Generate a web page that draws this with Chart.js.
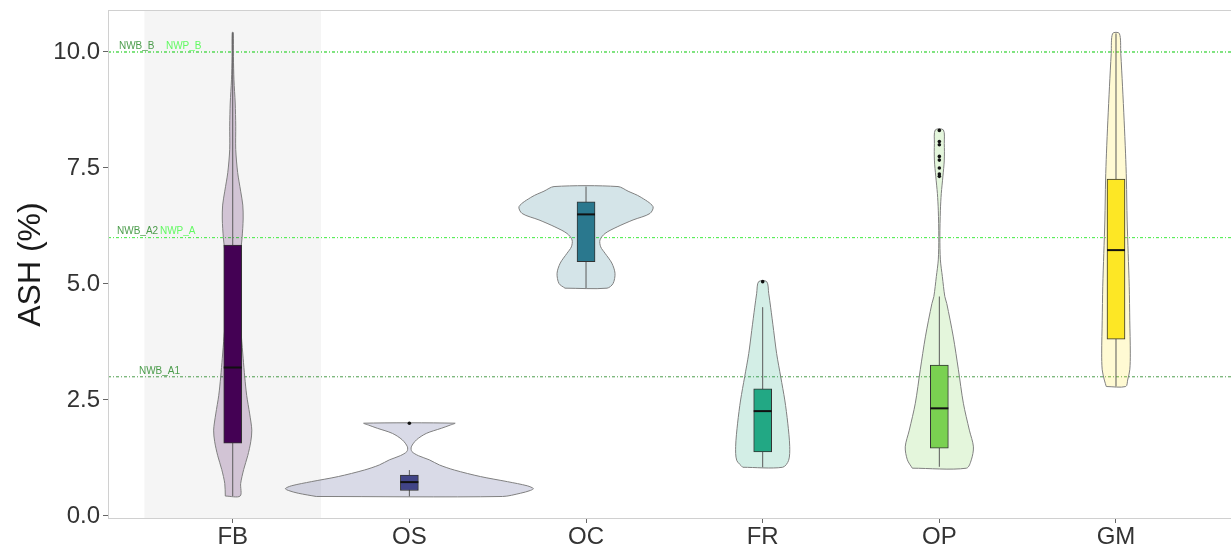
<!DOCTYPE html>
<html>
<head>
<meta charset="utf-8">
<title>ASH (%)</title>
<script src="https://cdn.jsdelivr.net/npm/chart.js@4.4.1/dist/chart.umd.min.js"></script>
<style>
  html, body { margin: 0; padding: 0; background: #fff; }
</style>
</head>
<body>
<canvas id="ashChart" width="1231" height="550"></canvas>
<script>
// groups on the x axis and y ticks
var categories = ['FB', 'OS', 'OC', 'FR', 'OP', 'GM'];
var yTicks = [0, 2.5, 5, 7.5, 10];

// box plot stats
var q1 = [1.57, 0.55, 5.48, 1.38, 1.46, 3.81];
var medians = [3.2, 0.73, 6.5, 2.26, 2.32, 5.73];
var q3 = [5.84, 0.88, 6.77, 2.74, 3.25, 7.26];
var whiskerLow = [0.43, 0.42, 4.91, 1.05, 1.06, 2.79];
var whiskerHigh = [10.42, 0.99, 7.10, 4.5, 4.73, 10.40];

// outliers (group index + value)
var outlierGroup = [1, 3, 4, 4, 4, 4, 4, 4, 4, 4];
var outlierValues = [2.0, 5.05, 8.31, 8.07, 8.0, 7.75, 7.67, 7.5, 7.37, 7.32];

// violin outlines: ash levels and half width of the density (category units)
var fbLevels = [0.43, 0.7, 1.0, 1.3, 1.6, 1.85, 2.2, 2.6, 3.0, 3.4, 3.87, 4.4, 5.0, 5.6, 6.0, 6.4, 6.7, 7.0, 7.4, 7.9, 8.4, 8.9, 9.4, 9.9, 10.42];
var fbWidths = [0.042, 0.045, 0.062, 0.085, 0.102, 0.108, 0.096, 0.079, 0.068, 0.059, 0.049, 0.037, 0.031, 0.042, 0.053, 0.059, 0.057, 0.045, 0.028, 0.017, 0.017, 0.014, 0.007, 0.004, 0.003];
var osLevels = [0.42, 0.49, 0.55, 0.59, 0.65, 0.74, 0.85, 0.99, 1.1, 1.21, 1.3, 1.39, 1.49, 1.64, 1.78, 1.89, 1.96, 2.0];
var osWidths = [0.527, 0.629, 0.685, 0.702, 0.668, 0.555, 0.402, 0.255, 0.170, 0.113, 0.051, 0.014, 0.011, 0.040, 0.096, 0.181, 0.232, 0.258];
var ocLevels = [4.91, 5.01, 5.23, 5.45, 5.66, 5.80, 5.95, 6.09, 6.23, 6.38, 6.52, 6.67, 6.88, 7.0, 7.10];
var ocWidths = [0.119, 0.153, 0.164, 0.146, 0.108, 0.083, 0.079, 0.108, 0.176, 0.266, 0.362, 0.379, 0.306, 0.238, 0.181];
var frLevels = [1.05, 1.2, 1.5, 2.0, 2.5, 3.0, 3.5, 4.0, 4.5, 4.8, 5.05];
var frWidths = [0.113, 0.147, 0.153, 0.142, 0.125, 0.102, 0.079, 0.062, 0.045, 0.034, 0.023];
var opLevels = [1.03, 1.21, 1.49, 1.85, 2.43, 3.15, 3.86, 4.58, 4.73, 5.16, 5.52, 6.02, 6.59, 6.95, 7.31, 7.67, 8.03, 8.32];
var opWidths = [0.153, 0.181, 0.193, 0.170, 0.136, 0.108, 0.079, 0.042, 0.031, 0.017, 0.006, 0.003, 0.006, 0.011, 0.020, 0.028, 0.028, 0.023];
var gmLevels = [2.79, 2.93, 3.15, 3.51, 4.22, 4.94, 5.66, 6.38, 7.24, 7.82, 8.53, 9.25, 9.97, 10.40];
var gmWidths = [0.055, 0.066, 0.078, 0.081, 0.078, 0.075, 0.069, 0.063, 0.059, 0.054, 0.046, 0.037, 0.027, 0.019];

var violinLevels = [fbLevels, osLevels, ocLevels, frLevels, opLevels, gmLevels];
var violinWidths = [fbWidths, osWidths, ocWidths, frWidths, opWidths, gmWidths];

// reference limits
var refNames = ['NWB_B', 'NWB_A2', 'NWB_A1', 'NWP_B', 'NWP_A'];
var refValues = [10, 6, 3, 10, 6];

// ---- layout / style ----
var X_MIN = -0.706, X_MAX = 5.651;
var Y_MIN = -0.065, Y_MAX = 10.905;
var FONT = '"Liberation Sans", Arial, sans-serif';
var groupColors = ['#440154', '#414487', '#2A788E', '#22A884', '#7AD151', '#FDE725'];
var violinFills = groupColors.map(function(c) { return hexToRgba(c, 0.2); });
var refColors = ['rgba(45,140,45,0.85)', 'rgba(45,140,45,0.85)', 'rgba(45,140,45,0.85)', 'rgba(90,250,90,0.95)', 'rgba(90,250,90,0.95)'];
var refLabelX = [-0.644, -0.655, -0.531, -0.378, -0.412];

function hexToRgba(hex, a) {
    var n = parseInt(hex.slice(1), 16);
    return 'rgba(' + (n >> 16) + ',' + ((n >> 8) & 255) + ',' + (n & 255) + ',' + a + ')';
}

function violinPoints(k) {
    var lv = violinLevels[k], w = violinWidths[k], pts = [];
    for (var i = 0; i < lv.length; i++) pts.push({x: k - w[i], y: lv[i]});
    for (var j = lv.length - 1; j >= 0; j--) pts.push({x: k + w[j], y: lv[j]});
    pts.push({x: k - w[0], y: lv[0]});
    return pts;
}

function noPadding(s) {
    s.paddingTop = 0; s.paddingBottom = 0; s.paddingLeft = 0; s.paddingRight = 0;
}

var datasets = [];

// outliers
datasets.push({
    type: 'line', showLine: false, order: 1,
    data: outlierValues.map(function(v, i) { return {x: outlierGroup[i], y: v}; }),
    pointRadius: 1.8, pointBackgroundColor: '#111', pointBorderWidth: 0
});

// medians
datasets.push({
    type: 'line', showLine: false, order: 2,
    data: medians.map(function(v, i) { return {x: i, y: v}; }),
    pointStyle: 'line', pointRadius: 9, pointBorderWidth: 2, pointBorderColor: '#111'
});

// boxes
datasets.push({
    type: 'bar', order: 3,
    data: q1.map(function(v, i) { return {x: i, y: [v, q3[i]]}; }),
    backgroundColor: groupColors, borderColor: '#333', borderWidth: 1,
    borderSkipped: false, barThickness: 18
});

// whiskers
var whiskerData = [];
whiskerLow.forEach(function(v, i) {
    whiskerData.push({x: i, y: v}, {x: i, y: whiskerHigh[i]}, {x: i, y: null});
});
datasets.push({
    type: 'line', order: 4, data: whiskerData, spanGaps: false,
    borderColor: '#5a5a5a', borderWidth: 1, pointRadius: 0
});

// violins
categories.forEach(function(c, k) {
    datasets.push({
        type: 'line', order: 10 + k, data: violinPoints(k),
        fill: 'shape', backgroundColor: violinFills[k],
        borderColor: '#808080', borderWidth: 1, tension: 0.3, pointRadius: 0
    });
});

// reference lines
refValues.forEach(function(v, i) {
    datasets.push({
        type: 'line', order: 30 - i,
        data: [{x: X_MIN, y: v}, {x: X_MAX, y: v}],
        borderColor: refColors[i], borderWidth: 1, borderDash: [3, 2, 1, 2], pointRadius: 0
    });
});

// shaded FB column
datasets.push({
    type: 'line', order: 50,
    data: [{x: -0.5, y: Y_MIN}, {x: -0.5, y: Y_MAX}, {x: 0.5, y: Y_MAX}, {x: 0.5, y: Y_MIN}],
    fill: 'shape', backgroundColor: '#f5f5f5', borderWidth: 0, pointRadius: 0
});

var panelPlugin = {
    id: 'panel',
    afterDatasetsDraw: function(chart) {
        var ctx = chart.ctx, a = chart.chartArea, x = chart.scales.x, y = chart.scales.y;
        ctx.save();
        ctx.strokeStyle = '#d0d0d0';
        ctx.lineWidth = 1;
        ctx.strokeRect(a.left + 0.5, a.top + 0.5, a.right - a.left + 2, a.bottom - a.top - 1);
        ctx.font = '10px ' + FONT;
        ctx.textBaseline = 'middle';
        ctx.textAlign = 'left';
        refNames.forEach(function(name, i) {
            ctx.fillStyle = refColors[i];
            ctx.fillText(name, x.getPixelForValue(refLabelX[i]), y.getPixelForValue(refValues[i]) - 6);
        });
        ctx.restore();
    }
};

new Chart(document.getElementById('ashChart'), {
    type: 'line',
    data: { datasets: datasets },
    plugins: [panelPlugin],
    options: {
        responsive: false,
        animation: false,
        devicePixelRatio: 1,
        events: [],
        layout: { autoPadding: false, padding: { top: 10, right: 0, left: 0, bottom: 0 } },
        plugins: { legend: { display: false }, tooltip: { enabled: false } },
        scales: {
            x: {
                type: 'linear', min: X_MIN, max: X_MAX, offset: false,
                afterBuildTicks: function(s) { s.ticks = categories.map(function(c, i) { return {value: i}; }); },
                afterFit: function(s) { s.height = 31; noPadding(s); },
                ticks: {
                    callback: function(v) { return categories[v]; },
                    font: { family: FONT, size: 24 }, color: '#333', padding: 0,
                    autoSkip: false, maxRotation: 0
                },
                grid: { drawOnChartArea: false, tickLength: 4, color: '#666', offset: false },
                border: { display: false }
            },
            y: {
                type: 'linear', min: Y_MIN, max: Y_MAX,
                afterBuildTicks: function(s) { s.ticks = yTicks.map(function(v) { return {value: v}; }); },
                afterFit: function(s) { s.width = 108; noPadding(s); },
                ticks: {
                    callback: function(v) { return v.toFixed(1); },
                    font: { family: FONT, size: 24 }, color: '#333', padding: 3
                },
                grid: { drawOnChartArea: false, tickLength: 5, color: '#666' },
                border: { display: false },
                title: {
                    display: true, text: 'ASH (%)', color: '#1a1a1a',
                    font: { family: FONT, size: 32 }, padding: { top: 12, bottom: 0 }
                }
            }
        }
    }
});
</script>
</body>
</html>
